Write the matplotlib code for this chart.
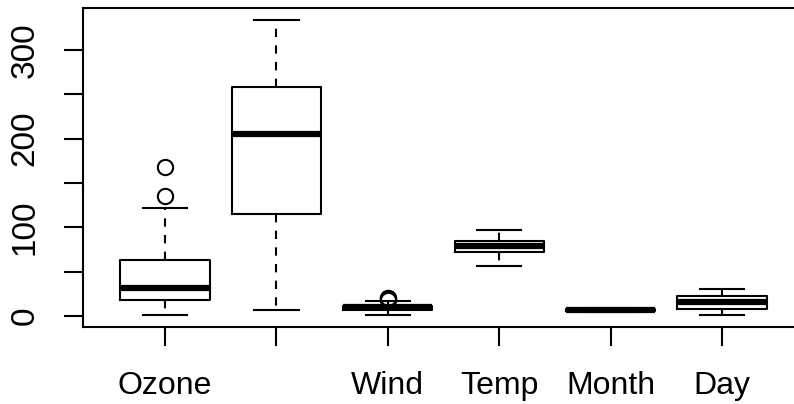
import matplotlib
matplotlib.use("Agg")
import matplotlib.pyplot as plt
from matplotlib.ticker import FixedLocator

plt.rcParams['font.family'] = ['Liberation Sans', 'DejaVu Sans']

# airquality columns, five-number summaries as R's boxplot computes them
names = ["Ozone", "", "Wind", "Temp", "Month", "Day"]
lo_whisker = [1, 7, 1.7, 56, 5, 1]
q1 = [18, 115.5, 7.4, 72, 6, 8]
med = [31.5, 205, 9.7, 79, 7, 16]
q3 = [63.5, 258.5, 11.5, 85, 8, 23]
hi_whisker = [122, 334, 16.6, 97, 9, 31]
outliers = [[135, 168], [], [20.1, 18.4, 20.7], [], [], []]

stats = []
for i in range(len(names)):
    stats.append(dict(label=names[i], whislo=lo_whisker[i], q1=q1[i], med=med[i],
                      q3=q3[i], whishi=hi_whisker[i], fliers=outliers[i]))

fig = plt.figure(figsize=(7.94, 4.04), dpi=100)
ax = fig.add_axes([82.5 / 794, 77 / 404, 722 / 794, 319 / 404])

lw = 1.5
ax.bxp(stats, positions=range(1, 7), widths=0.8,
       boxprops=dict(color='black', linewidth=lw),
       medianprops=dict(color='black', linewidth=4.5, solid_capstyle='butt'),
       whiskerprops=dict(color='black', linewidth=lw, linestyle=(0, (4, 4))),
       capprops=dict(color='black', linewidth=lw),
       capwidths=0.4,
       flierprops=dict(marker='o', markerfacecolor='none', markeredgecolor='black',
                       markersize=11, markeredgewidth=1.5, linestyle='none'))

ax.set_xlim(0.26, 6.74)
ax.set_ylim(-12.3, 347.3)

ax.yaxis.set_major_locator(FixedLocator([0, 100, 200, 300]))
ax.yaxis.set_minor_locator(FixedLocator([50, 150, 250]))
ax.tick_params(axis='y', which='both', length=14, width=1.5, direction='out')
ax.tick_params(axis='y', labelsize=24, pad=16)
for t in ax.get_yticklabels():
    t.set_rotation(90)
    t.set_va('center')
ax.tick_params(axis='x', length=14, width=1.5, labelsize=23, pad=18)

for s in ax.spines.values():
    s.set_linewidth(1.5)

fig.savefig("out.png", dpi=100)
